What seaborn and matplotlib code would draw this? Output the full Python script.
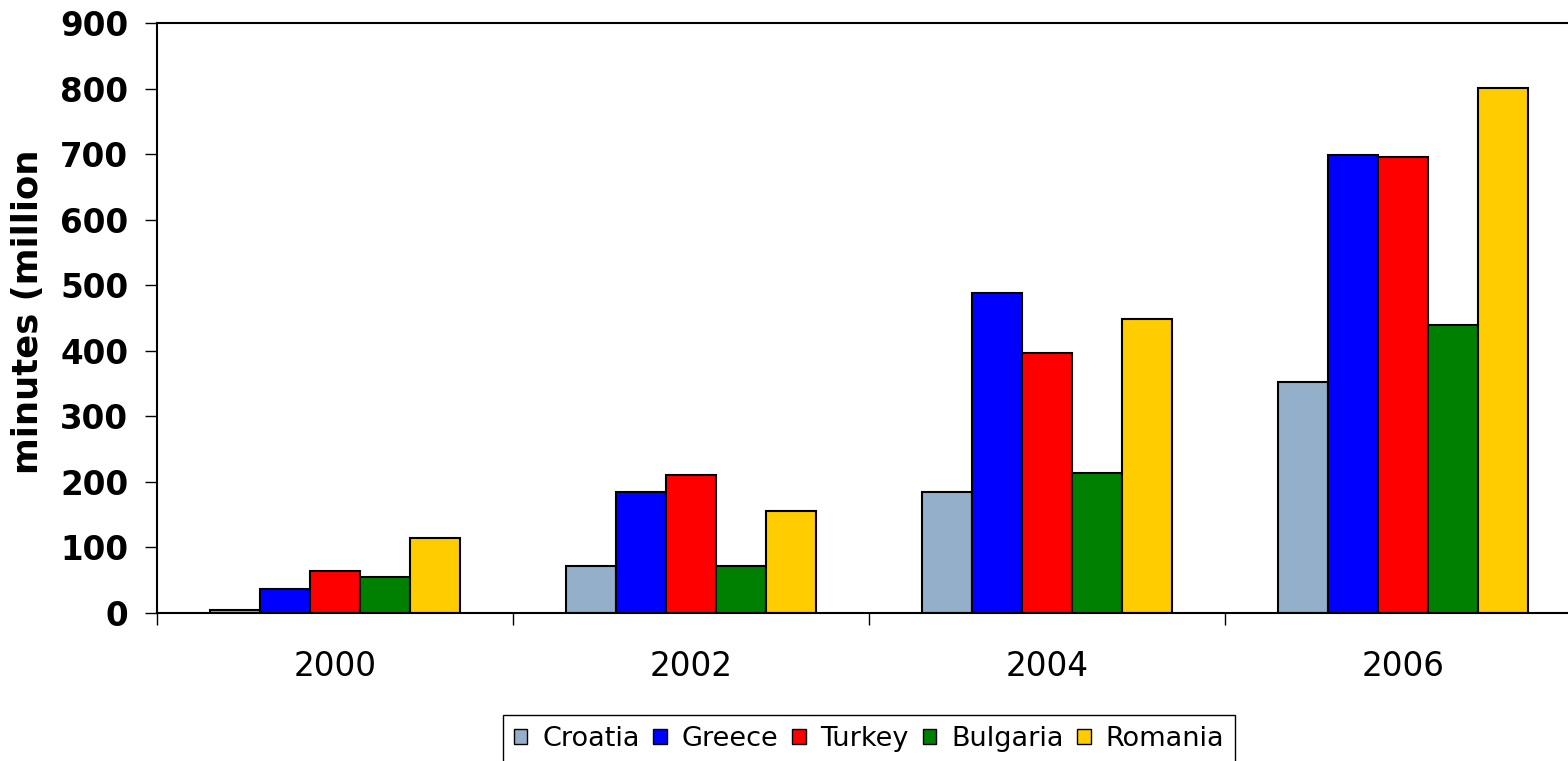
import matplotlib
matplotlib.use("Agg")
import matplotlib.pyplot as plt
import seaborn as sns
import pandas as pd

years = ["2000", "2002", "2004", "2006"]
countries = ["Croatia", "Greece", "Turkey", "Bulgaria", "Romania"]
croatia = [4, 71, 184, 353]
greece = [37, 184, 488, 699]
turkey = [64, 211, 397, 696]
bulgaria = [55, 71, 214, 439]
romania = [115, 156, 448, 801]
colors = ["#94AFC9", "#0000FF", "#FF0000", "#008000", "#FFCC00"]
y_ticks = [0, 100, 200, 300, 400, 500, 600, 700, 800, 900]
y_label = "minutes (million"

series = [croatia, greece, turkey, bulgaria, romania]
rows = []
for c, vals in zip(countries, series):
    for yr, v in zip(years, vals):
        rows.append({"year": yr, "country": c, "value": v})
df = pd.DataFrame(rows)

sns.set_theme(style="white")
plt.rcParams["font.family"] = ["DejaVu Sans"]

W, H = 1568, 761
fig = plt.figure(figsize=(W / 100, H / 100), dpi=100)
ax = fig.add_axes([157 / W, (H - 613) / H, 1424 / W, 590 / H])

sns.barplot(data=df, x="year", y="value", hue="country", hue_order=countries,
            order=years, palette=colors, width=0.7, edgecolor="black",
            linewidth=1.5, saturation=1, ax=ax, legend=True)

ax.set_xlim(-0.5, 3.5)
ax.set_ylim(0, 900)
ax.set_yticks(y_ticks)
ax.set_yticklabels([str(t) for t in y_ticks], fontsize=23.5, fontweight="bold")
ax.set_xticks([-0.5, 0.5, 1.5, 2.5, 3.5])
ax.set_xticklabels([])
ax.set_xticks([0, 1, 2, 3], minor=True)
ax.set_xticklabels(years, minor=True, fontsize=23.5)
ax.tick_params(axis="x", which="major", direction="out", length=8.6, width=1.0,
               color="black", bottom=True)
ax.tick_params(axis="x", which="minor", length=0, pad=26.5, colors="black", bottom=True)
ax.tick_params(axis="y", which="major", direction="out", length=8.6, width=1.0,
               color="black", pad=12, left=True, labelcolor="black")
ax.set_xlabel("")
ax.set_ylabel("")
for s in ["left", "bottom", "top", "right"]:
    ax.spines[s].set_visible(True)
    ax.spines[s].set_color("black")
    ax.spines[s].set_linewidth(1.5)
ax.grid(False)

handles, labels = ax.get_legend_handles_labels()
ax.get_legend().remove()
leg = ax.legend(handles, labels, loc="upper center", bbox_to_anchor=(0.5, (613 - 715) / 590),
                ncol=5, fontsize=19.5, handlelength=0.5, handleheight=0.5,
                handletextpad=0.55, columnspacing=0.5, frameon=True, fancybox=False,
                framealpha=1, edgecolor="black", borderpad=0.4, borderaxespad=0)
leg.get_frame().set_linewidth(1.0)
for t in leg.get_texts():
    t.set_color("black")
for h in leg.legend_handles:
    h.set_linewidth(1.0)

fig.text(28 / W, 1 - 312 / H, y_label, rotation=90, ha="center", va="center",
         fontsize=25.5, fontweight="bold", color="black")

fig.savefig("out.png", dpi=100)
